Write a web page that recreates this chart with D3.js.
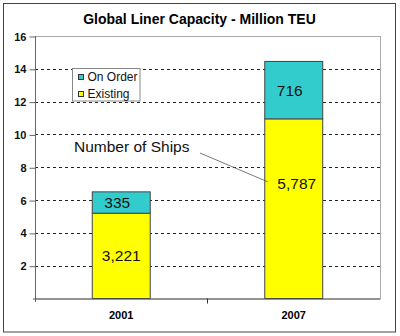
<!DOCTYPE html>
<html>
<head>
<meta charset="utf-8">
<script src="https://cdn.jsdelivr.net/npm/d3@7"></script>
<style>
  body { margin: 0; background: #fff; }
  svg text { font-family: Arial, "Liberation Sans", sans-serif; }
</style>
</head>
<body>
<svg id="chart" width="400" height="336"></svg>
<script>
// dados
var years = ["2001", "2007"];
var existing = [5.2, 10.95];
var onOrder = [1.3, 3.5];
var existingShips = ["3,221", "5,787"];
var onOrderShips = ["335", "716"];
var yTicks = [2, 4, 6, 8, 10, 12, 14, 16];
var seriesNames = ["On Order", "Existing"];
var colors = ["#33cccc", "#ffff00"];

var svg = d3.select("#chart");
var plotLeft = 35, plotRight = 380, plotTop = 36, plotBottom = 298.5;

// borda externa
svg.append("rect")
    .attr("x", 3.5).attr("y", 3.5)
    .attr("width", 392).attr("height", 328.5)
    .attr("fill", "none")
    .attr("stroke", "#444")
    .attr("stroke-width", 1);

svg.append("text")
    .attr("x", 199.5).attr("y", 24)
    .attr("text-anchor", "middle")
    .attr("font-size", "14px")
    .attr("font-weight", "bold")
    .text("Global Liner Capacity - Million TEU");

var xScale = d3.scaleBand()
    .domain(years)
    .range([plotLeft, plotRight])
    .paddingInner(0.664)
    .paddingOuter(0.332);

var yScale = d3.scaleLinear()
    .domain([0, 16])
    .range([plotBottom, plotTop]);

// borda da area do grafico
svg.append("rect")
    .attr("x", plotLeft + 0.5).attr("y", plotTop + 0.5)
    .attr("width", plotRight - plotLeft).attr("height", plotBottom - plotTop)
    .attr("fill", "none")
    .attr("stroke", "#aaa");

// linhas de grade tracejadas
svg.selectAll("line.grid")
    .data(yTicks.filter(function(d){ return d < 16; }))
    .enter()
    .append("line")
        .attr("class", "grid")
        .attr("x1", plotLeft).attr("x2", plotRight)
        .attr("y1", function(d){ return Math.round(yScale(d)) + 0.5; })
        .attr("y2", function(d){ return Math.round(yScale(d)) + 0.5; })
        .attr("stroke", "#222")
        .attr("stroke-dasharray", "3,3");

// eixo y
var yAxis = svg.append("g")
    .attr("transform", "translate(" + (plotLeft + 0.5) + ",0.5)")
    .call(d3.axisLeft(yScale).tickValues(yTicks).tickSize(6).tickPadding(3));
yAxis.selectAll("text")
    .attr("font-size", "11px")
    .attr("font-weight", "bold")
    .attr("fill", "#111")
    .attr("font-family", "Arial, 'Liberation Sans', sans-serif");
yAxis.selectAll("line, path").attr("stroke", "#666");
yAxis.select("path").attr("d", "M0," + (plotTop - 0.5) + "V" + (plotBottom + 3));

// barras empilhadas
var stacked = years.map(function(y, i){
    return { year: y, ex: existing[i], oo: onOrder[i] };
});

var bars = svg.selectAll("g.bar")
    .data(stacked)
    .enter()
    .append("g")
        .attr("class", "bar");

bars.append("rect")
    .attr("x", function(d){ return xScale(d.year); })
    .attr("width", xScale.bandwidth())
    .attr("y", function(d){ return yScale(d.ex); })
    .attr("height", function(d){ return yScale(0) - yScale(d.ex); })
    .attr("fill", colors[1])
    .attr("stroke", "#444");

bars.append("rect")
    .attr("x", function(d){ return xScale(d.year); })
    .attr("width", xScale.bandwidth())
    .attr("y", function(d){ return yScale(d.ex + d.oo); })
    .attr("height", function(d){ return yScale(d.ex) - yScale(d.ex + d.oo); })
    .attr("fill", colors[0])
    .attr("stroke", "#444");

// eixo x
svg.append("line")
    .attr("x1", plotLeft - 2).attr("x2", plotRight)
    .attr("y1", plotBottom + 0.5).attr("y2", plotBottom + 0.5)
    .attr("stroke", "#555");
var meioX = xScale("2007") - xScale.step() * xScale.paddingInner() / 2;
svg.append("line")
    .attr("x1", Math.round(meioX) + 0.5)
    .attr("x2", Math.round(meioX) + 0.5)
    .attr("y1", plotBottom).attr("y2", plotBottom + 5)
    .attr("stroke", "#333");

svg.selectAll("text.year")
    .data(years)
    .enter()
    .append("text")
        .attr("class", "year")
        .attr("x", function(d){ return xScale(d) + xScale.bandwidth() / 2; })
        .attr("y", 319)
        .attr("text-anchor", "middle")
        .attr("font-size", "11px")
        .attr("font-weight", "bold")
        .text(function(d){ return d; });

// rotulos com numero de navios
svg.selectAll("text.oo")
    .data(stacked)
    .enter()
    .append("text")
        .attr("class", "oo")
        .attr("x", function(d){ return xScale(d.year) + xScale.bandwidth() / 2 - 4; })
        .attr("y", function(d){ return (yScale(d.ex) + yScale(d.ex + d.oo)) / 2 + 5.5; })
        .attr("text-anchor", "middle")
        .attr("font-size", "15.5px")
        .attr("fill", "#111")
        .text(function(d, i){ return onOrderShips[i]; });

svg.selectAll("text.ex")
    .data(stacked)
    .enter()
    .append("text")
        .attr("class", "ex")
        .attr("x", function(d, i){ return xScale(d.year) + xScale.bandwidth() / 2 + (i == 1 ? 3 : 0); })
        .attr("y", function(d, i){
            // o rotulo de 2007 foi movido para cima no original
            var meio = (yScale(0) + yScale(d.ex)) / 2;
            return (i == 1 ? yScale(d.ex) + 65 : meio) + 5.5;
        })
        .attr("text-anchor", "middle")
        .attr("font-size", "15.5px")
        .attr("fill", "#111")
        .text(function(d, i){ return existingShips[i]; });

svg.append("text")
    .attr("x", 74).attr("y", 152)
    .attr("font-size", "15.5px")
    .attr("fill", "#111")
    .text("Number of Ships");

svg.append("line")
    .attr("x1", 200).attr("y1", 153)
    .attr("x2", xScale("2007") + 3).attr("y2", yScale(existing[1]) + 63)
    .attr("stroke", "#555")
    .attr("stroke-width", 0.8);

// legenda
var legend = svg.append("g").attr("transform", "translate(72.5,68.5)");
legend.append("rect")
    .attr("width", 67.5).attr("height", 32.5)
    .attr("fill", "#fff")
    .attr("stroke", "#888");
legend.selectAll("rect.key")
    .data(seriesNames)
    .enter()
    .append("rect")
        .attr("class", "key")
        .attr("x", 6).attr("y", function(d, i){ return 6 + i * 17; })
        .attr("width", 5).attr("height", 5)
        .attr("fill", function(d, i){ return colors[i]; })
        .attr("stroke", "#333");
legend.selectAll("text.lbl")
    .data(seriesNames)
    .enter()
    .append("text")
        .attr("class", "lbl")
        .attr("x", 15).attr("y", function(d, i){ return 12.5 + i * 17; })
        .attr("font-size", "12px")
        .attr("fill", "#111")
        .text(function(d){ return d; });
</script>
</body>
</html>
